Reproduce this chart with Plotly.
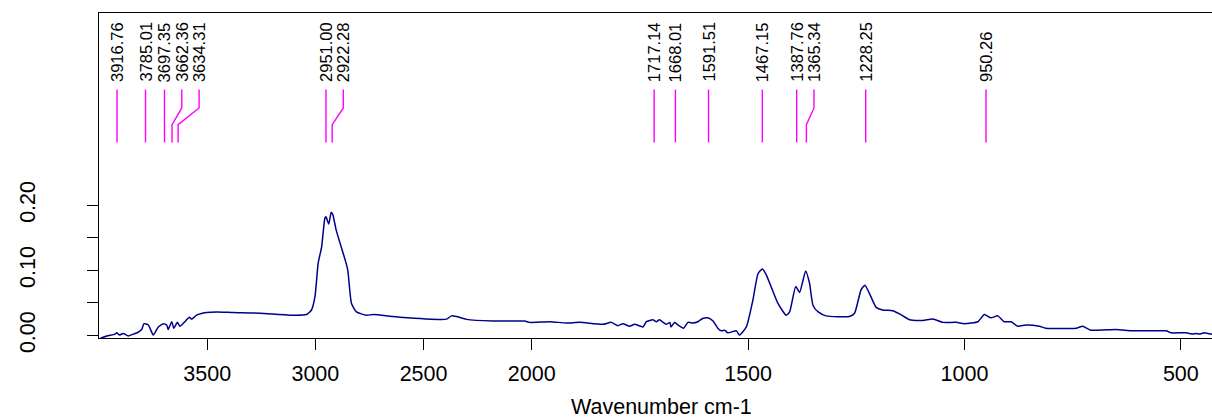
import plotly.graph_objects as go

# IR absorbance spectrum (wavenumber in cm-1, absorbance)
wavenumber = [3996, 3964, 3926, 3918, 3906, 3888, 3865, 3842, 3823, 3803, 3792, 3772, 3749,
              3726, 3703, 3687, 3680, 3664, 3654, 3638, 3626, 3603, 3583, 3572, 3549, 3503,
              3457, 3380, 3256, 3118, 3041, 3018, 3002, 2987, 2971, 2956, 2951, 2938, 2927,
              2919, 2904, 2858, 2850, 2833, 2810, 2764, 2733, 2610, 2394, 2371, 2348, 2302,
              2179, 2033, 2010, 1958, 1920, 1889, 1858, 1835, 1816, 1801, 1789, 1774, 1762,
              1743, 1735, 1720, 1712, 1705, 1689, 1681, 1678, 1670, 1662, 1649, 1639, 1628,
              1616, 1605, 1593, 1581, 1570, 1562, 1554, 1547, 1527, 1520, 1504, 1489, 1477,
              1467, 1458, 1431, 1412, 1404, 1390, 1381, 1367, 1358, 1350, 1338, 1320, 1266,
              1254, 1239, 1230, 1220, 1204, 1189, 1166, 1150, 1127, 1096, 1073, 1050, 1019,
              1000, 969, 954, 939, 923, 908, 892, 877, 858, 827, 812, 742, 727, 708, 650,
              611, 534, 523, 488, 473, 465, 457, 446, 430, 400]
absorbance = [-0.005, -0.001, 0.002, 0.004, 0.0005, 0.003, -0.001, 0.002, 0.004, 0.009, 0.018,
              0.016, 0.0005, 0.013, 0.018, 0.016, 0.009, 0.021, 0.011, 0.020, 0.014, 0.021,
              0.028, 0.025, 0.031, 0.035, 0.036, 0.035, 0.034, 0.031, 0.032, 0.039, 0.059,
              0.111, 0.136, 0.180, 0.182, 0.171, 0.189, 0.185, 0.162, 0.111, 0.100, 0.049,
              0.036, 0.031, 0.032, 0.028, 0.025, 0.030, 0.029, 0.0246, 0.022, 0.022, 0.020,
              0.021, 0.019, 0.020, 0.018, 0.017, 0.020, 0.015, 0.018, 0.014, 0.017, 0.013,
              0.021, 0.024, 0.021, 0.024, 0.017, 0.020, 0.013, 0.020, 0.016, 0.011, 0.020,
              0.019, 0.021, 0.026, 0.027, 0.022, 0.011, 0.007, 0.008, 0.004, 0.007, 0.0005,
              0.013, 0.054, 0.095, 0.102, 0.093, 0.049, 0.031, 0.036, 0.075, 0.066, 0.099,
              0.080, 0.046, 0.036, 0.030, 0.029, 0.034, 0.070, 0.077, 0.065, 0.043, 0.039,
              0.038, 0.033, 0.024, 0.023, 0.025, 0.020, 0.020, 0.018, 0.021, 0.032, 0.027,
              0.030, 0.021, 0.021, 0.014, 0.016, 0.014, 0.011, 0.011, 0.014, 0.008, 0.009,
              0.007, 0.007, 0.004, 0.004, 0.002, 0.003, 0.002, 0.004, 0.002, 0.002]

# Picked peaks (cm-1)
peaks = [3916.76, 3785.01, 3697.35, 3662.36, 3634.31, 2951.00, 2922.28, 1717.14, 1668.01,
         1591.51, 1467.15, 1387.76, 1365.34, 1228.25, 950.26]

# Wavenumber axis ticks
tick_wn = [3500, 3000, 2500, 2000, 1500, 1000, 500]
y_ticks = [0.00, 0.05, 0.10, 0.15, 0.20]
y_tick_text = ["0.00", "", "0.10", "", "0.20"]


def to_axis(w):
    """Compressed scale above 2000 cm-1 (half the length per unit)."""
    return w if w <= 2000 else 2000 + (w - 2000) / 2.0


X_RANGE = [3000, 428]
Y_RANGE = [-0.004, 0.495]
LABEL_GAP = 40  # minimum separation between peak labels, in axis units

# Label positions: pushed right when crowding the previous one
label_pos = []
for p in sorted(peaks, reverse=True):
    a = to_axis(p)
    if label_pos and a > label_pos[-1] - LABEL_GAP:
        a = label_pos[-1] - LABEL_GAP
    label_pos.append(a)
peak_sorted = sorted(peaks, reverse=True)

y_top, y_k1, y_k2, y_bot, y_text = 0.3774, 0.3492, 0.3235, 0.2963, 0.386

lx, ly = [], []
for p, a in zip(peak_sorted, label_pos):
    lx += [a, a, to_axis(p), to_axis(p), None]
    ly += [y_top, y_k1, y_k2, y_bot, None]

fig = go.Figure()
fig.add_trace(go.Scatter(
    x=[to_axis(w) for w in wavenumber], y=absorbance, mode="lines",
    line=dict(color="#00008B", width=1.5, shape="spline", smoothing=0.5),
    hoverinfo="skip", showlegend=False))
fig.add_trace(go.Scatter(
    x=lx, y=ly, mode="lines", line=dict(color="#FF00FF", width=1.4),
    hoverinfo="skip", showlegend=False))

for p, a in zip(peak_sorted, label_pos):
    fig.add_annotation(x=a, y=y_text, xref="x", yref="y", text=f"{p:.2f}",
                       textangle=-90, showarrow=False, xanchor="center", yanchor="bottom",
                       font=dict(family="Liberation Sans, Arial", size=16.5, color="black"))

fig.add_annotation(x=(661 - 99) / 1113, y=-0.212, xref="paper", yref="paper",
                   text="Wavenumber cm-1", showarrow=False, xanchor="center", yanchor="middle",
                   font=dict(family="Liberation Sans, Arial", size=21.5, color="black"))

fig.update_layout(
    width=1212, height=419,
    margin=dict(l=99, r=0, t=13, b=81),
    paper_bgcolor="white", plot_bgcolor="white",
    font=dict(family="Liberation Sans, Arial", size=21.5, color="black"),
    xaxis=dict(range=X_RANGE, tickvals=[to_axis(t) for t in tick_wn],
               ticktext=[str(t) for t in tick_wn], showgrid=False, zeroline=False,
               showline=True, linecolor="black", linewidth=1, mirror=True,
               ticks="outside", ticklen=11, tickcolor="black", ticklabelstandoff=5),
    yaxis=dict(range=Y_RANGE, tickvals=y_ticks, ticktext=y_tick_text, showgrid=False,
               zeroline=False, showline=True, linecolor="black", linewidth=1,
               ticks="outside", ticklen=11, tickcolor="black", tickangle=-90,
               ticklabelstandoff=43),
)

fig.write_html("out.html")
